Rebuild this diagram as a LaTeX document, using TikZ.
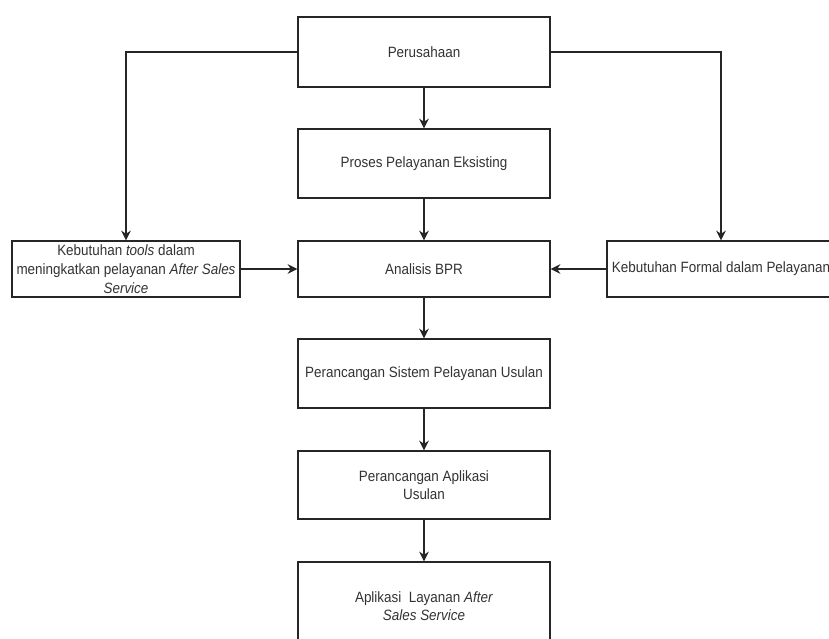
\documentclass[tikz,border=0pt]{standalone}
\usepackage{fontspec}
\setmainfont{Liberation Sans}[FakeStretch=0.9]
\usetikzlibrary{arrows.meta}

\begin{document}
\begin{tikzpicture}[x=0.02cm, y=-0.02cm,
box/.style={draw=black!85, line width=0.8pt, fill=white, inner xsep=0pt,
	minimum width=5.04cm, align=center,
	font=\fontsize{8.5}{10.2}\selectfont, text=black!80},
side/.style={box, inner ysep=0pt, minimum width=4.56cm, minimum height=1.12cm},
arr/.style={-{Stealth[length=5.5pt,width=5.5pt]}, draw=black!85, line width=0.8pt}]
\useasboundingbox (0,0) rectangle (829,639);
\clip (0,0) rectangle (829,639);

\node[box, minimum height=1.4cm] (per) at (424,52) {Perusahaan};
\node[box, minimum height=1.38cm] (pro) at (424,163.5) {Proses Pelayanan Eksisting};
\node[box, minimum height=1.12cm] (bpr) at (424,269) {Analisis BPR};
\node[side, font=\fontsize{8.5}{11}\selectfont] (keb) at (126,269)
	{Kebutuhan \textit{tools} dalam\\meningkatkan pelayanan \textit{After Sales}\\\textit{Service}};
\node[side] (frm) at (721,269) {Kebutuhan Formal dalam Pelayanan};
\node[box, minimum height=1.38cm] (sis) at (424,373.5) {Perancangan Sistem Pelayanan Usulan};
\node[box, minimum height=1.36cm] (apl) at (424,485) {Perancangan Aplikasi\\Usulan};
\node[box, minimum height=1.76cm] (lay) at (424,606) {Aplikasi~ Layanan \textit{After}\\\textit{Sales Service}};

\draw[arr] (per) -- (pro);
\draw[arr] (pro) -- (bpr);
\draw[arr] (per.west) -| (keb.north);
\draw[arr] (per.east) -| (frm.north);
\draw[arr] (keb) -- (bpr);
\draw[arr] (frm) -- (bpr);
\draw[arr] (bpr) -- (sis);
\draw[arr] (sis) -- (apl);
\draw[arr] (apl) -- (lay);
\end{tikzpicture}
\end{document}
